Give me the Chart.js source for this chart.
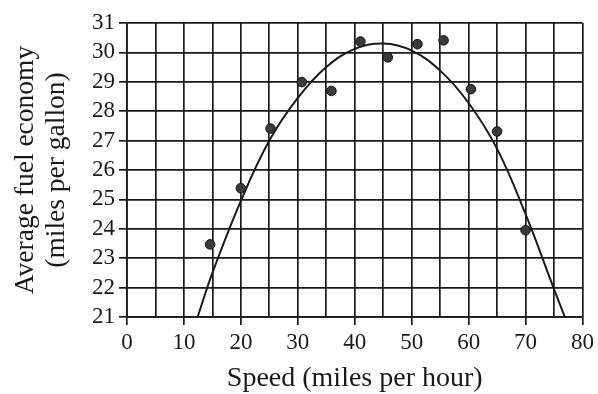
<!DOCTYPE html>
<html>
<head>
<meta charset="utf-8">
<script src="https://cdn.jsdelivr.net/npm/chart.js@4"></script>
<style>
  html, body { margin: 0; padding: 0; background: #fff; }
  canvas { display: block; }
</style>
</head>
<body>
<canvas id="chart-fuel" width="598" height="394"></canvas>
<script>
// measured points (speed mph, average mpg)
const speeds = [14.6, 20.0, 25.2, 30.7, 35.9, 41.0, 45.8, 51.0, 55.6, 60.4, 65.0, 70.0];
const economy = [23.47, 25.38, 27.41, 28.99, 28.69, 30.37, 29.83, 30.28, 30.41, 28.75, 27.31, 23.95];

// fitted curve
const fitSpeeds = [12.4, 15, 20, 25, 30, 35, 40, 45, 50, 55, 60, 65, 70, 75, 76.9];
const fitEconomy = [21, 22.5, 24.95, 27.0, 28.45, 29.5, 30.12, 30.3, 30.06, 29.38, 28.28, 26.72, 24.5, 21.95, 21];

const xTitle = 'Speed (miles per hour)';
const yTitle = ['Average fuel economy', '(miles per gallon)'];

const ink = '#1a1a1a';
const serif = '"Liberation Serif", "DejaVu Serif", serif';

const ctx = document.getElementById('chart-fuel').getContext('2d');

new Chart(ctx, {
  type: 'scatter',
  data: {
    datasets: [
      {
        data: speeds.map((s, i) => ({x: s, y: economy[i]})),
        pointRadius: 4.8,
        pointBackgroundColor: '#3a3a3a',
        pointBorderColor: '#111',
        pointBorderWidth: 1,
        order: 1
      },
      {
        type: 'line',
        data: fitSpeeds.map((s, i) => ({x: s, y: fitEconomy[i]})),
        borderColor: ink,
        borderWidth: 2,
        pointRadius: 0,
        fill: false,
        tension: 0.4,
        order: 2
      }
    ]
  },
  options: {
    responsive: false,
    animation: false,
    devicePixelRatio: 1,
    layout: {
      padding: {top: 23, right: 15, left: 0, bottom: 0}
    },
    plugins: {
      legend: {display: false},
      tooltip: {enabled: false}
    },
    scales: {
      x: {
        type: 'linear',
        min: 0,
        max: 80,
        afterFit: (scale) => { scale.height = 77; },
        ticks: {
          stepSize: 5,
          autoSkip: false,
          maxRotation: 0,
          padding: 4,
          color: ink,
          font: {family: serif, size: 23},
          callback: (v) => (v % 10 === 0 ? v : '')
        },
        grid: {
          color: ink,
          lineWidth: 1.7,
          tickLength: 8,
          tickColor: (c) => (c.tick && c.tick.value % 10 === 0 ? ink : 'rgba(0,0,0,0)')
        },
        border: {color: ink, width: 1.7},
        title: {
          display: true,
          text: xTitle,
          color: ink,
          font: {family: serif, size: 28, lineHeight: 1.1},
          padding: {top: 0, bottom: 0}
        }
      },
      y: {
        min: 21,
        max: 31,
        afterFit: (scale) => { scale.width = 127; },
        ticks: {
          stepSize: 1,
          autoSkip: false,
          padding: 4,
          color: ink,
          font: {family: serif, size: 23}
        },
        grid: {
          color: ink,
          lineWidth: 1.7,
          tickLength: 8
        },
        border: {color: ink, width: 1.7},
        title: {
          display: true,
          text: yTitle,
          color: ink,
          font: {family: serif, size: 27.5, lineHeight: 1.13},
          padding: {top: 10, bottom: 0}
        }
      }
    }
  }
});
</script>
</body>
</html>
